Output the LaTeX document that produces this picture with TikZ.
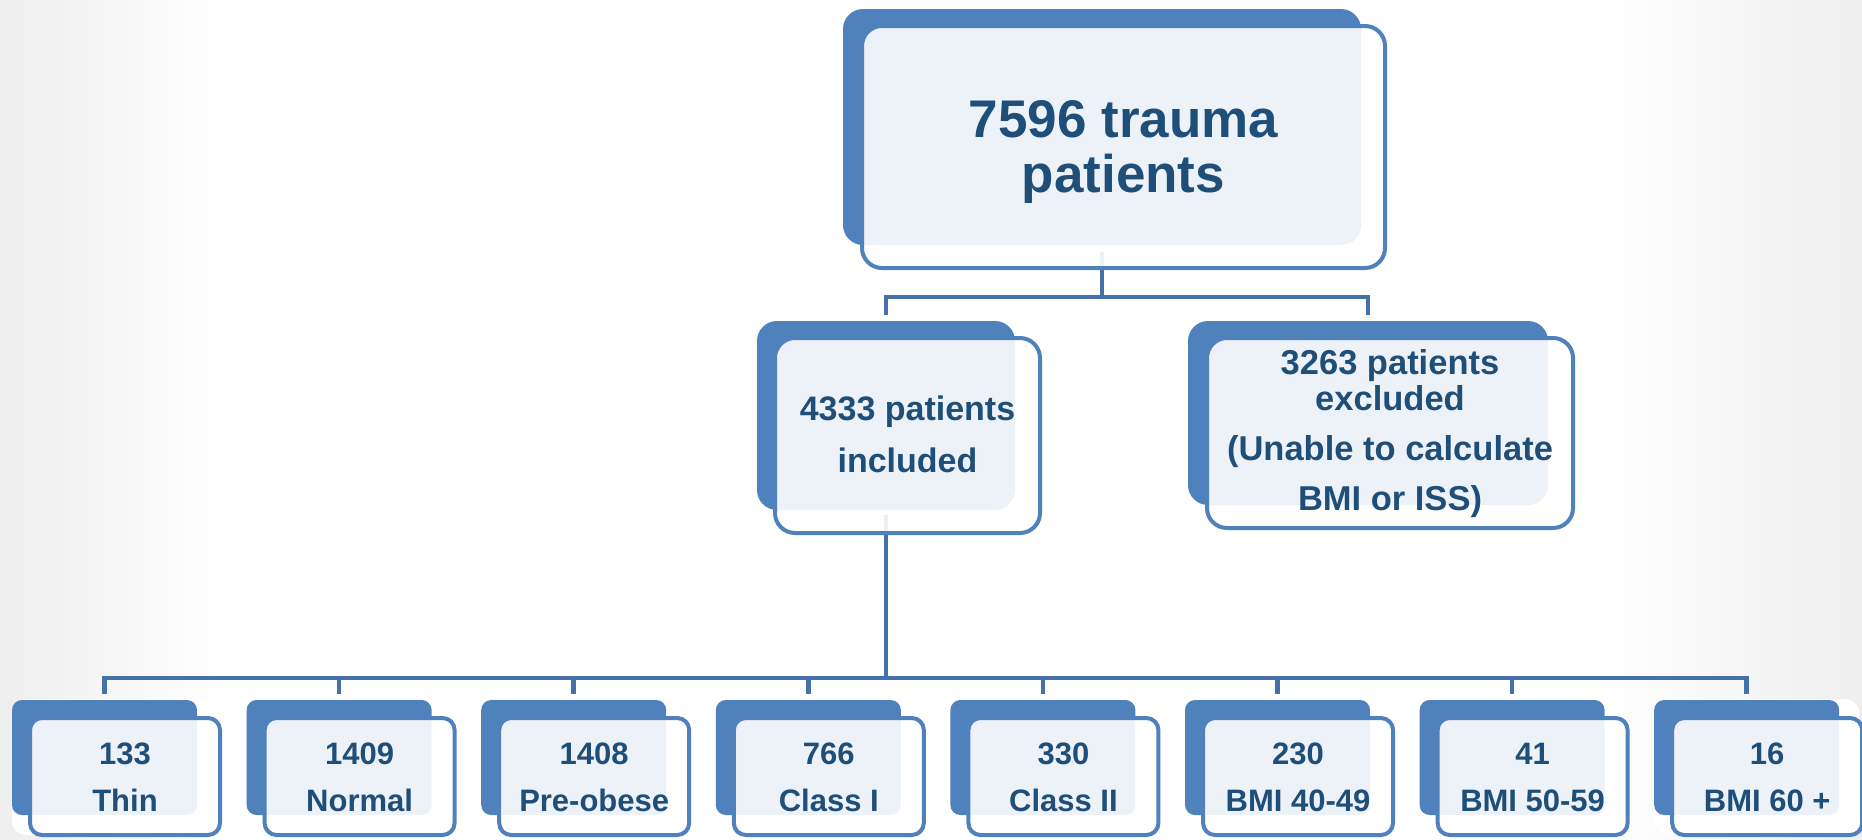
\documentclass[tikz,border=0pt]{standalone}
\usepackage{fontspec}
\setmainfont{Liberation Sans}
\definecolor{boxblue}{RGB}{79,129,189}
\definecolor{connblue}{RGB}{68,114,168}
\definecolor{txtblue}{RGB}{31,78,121}
\definecolor{bggray}{RGB}{238,238,238}
\tikzset{
  backbox/.style={rectangle, rounded corners=#1, fill=boxblue, draw=none, inner sep=0pt, outer sep=0pt},
  frontbox/.style={rectangle, rounded corners=#1, fill=white, fill opacity=0.9, draw=boxblue, line width=4pt, inner sep=0pt, outer sep=0pt},
  halo/.style={rectangle, rounded corners=14pt, fill=white, draw=none, inner sep=0pt},
  conn/.style={draw=connblue, line width=4.5pt},
  txt/.style={text=txtblue, font=\bfseries, align=center, inner sep=0pt, anchor=base},
}
\begin{document}
\begin{tikzpicture}[x=1pt,y=-1pt]
\useasboundingbox (0,0) rectangle (1862,839);
% background
\shade[left color=bggray, right color=white] (0,0) rectangle (230,839);
\shade[left color=white, right color=bggray] (1600,0) rectangle (1862,839);

% halos behind bottom boxes
\foreach \i in {1,...,8}{
  \pgfmathsetmacro{\bx}{104.5+234.6*(\i-1)}
  \pgfmathsetmacro{\hx}{\bx+10}
  \node[halo, minimum width=205pt, minimum height=136pt] (h\i) at (\hx,767) {};
}

% back boxes
\node[backbox=20pt, minimum width=518pt, minimum height=236pt] (topB) at (1102,127) {};
\node[backbox=20pt, minimum width=258pt, minimum height=189pt] (incB) at (886,415.5) {};
\node[backbox=20pt, minimum width=360pt, minimum height=184pt] (excB) at (1368,413) {};
\foreach \i in {1,...,8}{
  \pgfmathsetmacro{\bx}{104.5+234.6*(\i-1)}
  \node[backbox=10pt, minimum width=185pt, minimum height=115pt] (b\i-back) at (\bx,757.5) {};
}

% connectors
\coordinate (bus1) at (0,297);
\coordinate (bus2) at (0,678);
\draw[conn, shorten <=7pt] (topB.south) -- (topB.south |- bus1);
\draw[conn, shorten <=6pt, shorten >=6pt] (incB.north) -- (incB.north |- bus1) -- (excB.north |- bus1) -- (excB.north);
\draw[conn, shorten <=5pt] (incB.south) -- (incB.south |- bus2);
\draw[conn, shorten <=6pt, shorten >=6pt] (b1-back.north) -- (b1-back.north |- bus2) -- (b8-back.north |- bus2) -- (b8-back.north);
\foreach \i in {2,...,7}{
  \draw[conn, shorten >=6pt] (b\i-back.north |- bus2) -- (b\i-back.north);
}

% front boxes
\node[frontbox=20pt, minimum width=523pt, minimum height=242pt] (topF) at (1123.5,147) {};
\node[frontbox=20pt, minimum width=265pt, minimum height=195pt] (incF) at (907.5,435.5) {};
\node[frontbox=20pt, minimum width=366pt, minimum height=190pt] (excF) at (1390,433) {};
\foreach \i in {1,...,8}{
  \pgfmathsetmacro{\fx}{125+234.6*(\i-1)}
  \node[frontbox=12pt, minimum width=190pt, minimum height=117pt] (b\i-front) at (\fx,776.5) {};
}

% texts
\node[txt, font=\bfseries\fontsize{53}{55}\selectfont] (topT) at (1123.5,192) {7596 trauma\\patients};
\node[txt, font=\bfseries\fontsize{34}{52}\selectfont] (incT) at (907.5,472) {4333 patients\\included};
\node[txt, font=\bfseries\fontsize{34.5}{36}\selectfont] (excT) at (1390,510) {3263 patients\\excluded\\[14pt](Unable to calculate\\[14pt]BMI or ISS)};
\foreach \i/\n/\t in {1/133/Thin,2/1409/Normal,3/1408/Pre-obese,4/766/Class I,5/330/Class II,6/230/BMI 40-49,7/41/BMI 50-59,8/16/BMI 60 +}{
  \pgfmathsetmacro{\fx}{125+234.6*(\i-1)}
  \node[txt, font=\bfseries\fontsize{31}{47}\selectfont] (b\i-text) at (\fx,811.5) {\n\\\t};
}
\end{tikzpicture}
\end{document}
